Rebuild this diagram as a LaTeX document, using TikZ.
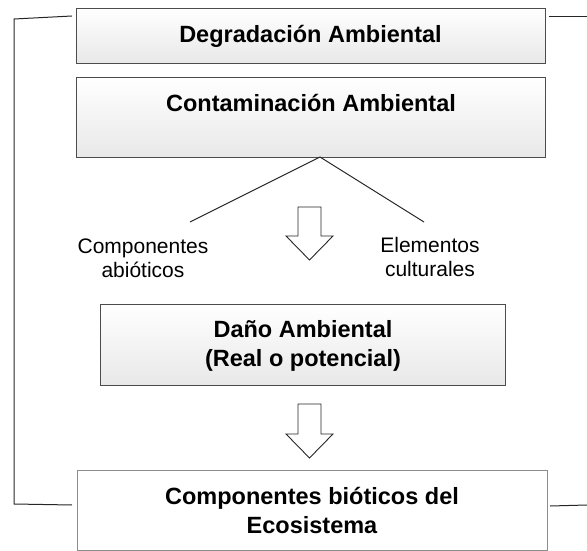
\documentclass[tikz,border=0pt]{standalone}
\usepackage{fontspec}
\setmainfont{Liberation Sans}
\usetikzlibrary{calc}
\begin{document}
\begin{tikzpicture}[x=1pt,y=-1pt,
  box/.style={draw=black!70, line width=0.8pt, top color=white, bottom color=black!9, inner sep=0pt, anchor=north west},
  lightbox/.style={draw=black!45, line width=0.6pt, fill=white, inner sep=0pt, anchor=north west},
  ttl/.style={font=\bfseries\fontsize{23.5}{29}\selectfont, inner sep=0pt, anchor=base, align=center},
  lbl/.style={font=\fontsize{21}{24}\selectfont, inner sep=0pt, anchor=base, align=center},
  conn/.style={draw=black!85, line width=1pt},
  harrow/.style={draw=black!85, line width=0.9pt, fill=white, line join=miter}]
\useasboundingbox (0,0) rectangle (587,551);

% boxes
\node[box, minimum width=469pt, minimum height=55pt] (deg) at (76,8) {};
\node[box, minimum width=469pt, minimum height=80pt] (cont) at (76,77) {};
\node[box, minimum width=405pt, minimum height=81pt] (dano) at (100,304) {};
\node[lightbox, minimum width=470pt, minimum height=80pt] (bot) at (77,470) {};

% titles (base = baseline of the last line)
\node[ttl] (tdeg) at (310.5,43) {Degradación Ambiental};
\node[ttl] (tcont) at (311,112) {Contaminación Ambiental};
\node[ttl] (tdano) at (303,366) {Daño Ambiental\\(Real o potencial)};
\node[ttl] (tbot) at (312,533) {Componentes bióticos del\\Ecosistema};

% side labels
\node[lbl] (abio) at (143,277) {Componentes\\abióticos};
\node[lbl] (cult) at (430,276) {Elementos\\culturales};

% branching lines
\coordinate (apex) at (320,157);
\coordinate (lend) at (190,222);
\coordinate (rend) at (424,222);
\draw[conn] (apex) -- (lend);
\draw[conn] (apex) -- (rend);

% hollow arrows
\draw[harrow] (298,207) -- (321,207) -- (321,236) -- (333,236) -- (309.5,260) -- (286,236) -- (298,236) -- cycle;
\draw[harrow] (298,404) -- (321,404) -- (321,434) -- (333,434) -- (309.5,458) -- (286,434) -- (298,434) -- cycle;

% brackets
\coordinate (lt) at (72,16);
\coordinate (ltc) at (14,19);
\coordinate (lbc) at (14,504);
\coordinate (lb) at (72,505);
\draw[conn] (lt) -- (ltc) -- (lbc) -- (lb);
\coordinate (rt) at (549,17);
\coordinate (rte) at (587,17);
\coordinate (rb) at (550,506);
\coordinate (rbe) at (587,505);
\draw[conn] (rt) -- (rte);
\draw[conn] (rb) -- (rbe);
\end{tikzpicture}
\end{document}
